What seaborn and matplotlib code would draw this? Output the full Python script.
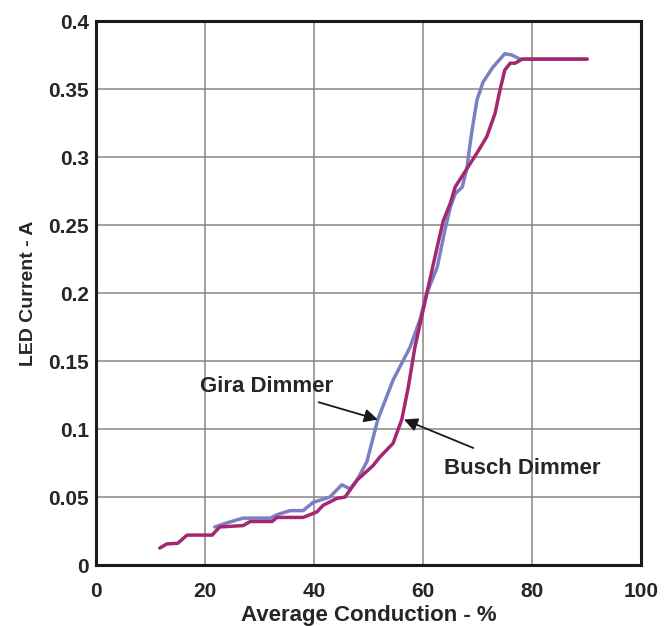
import matplotlib
matplotlib.use('Agg')
import matplotlib.pyplot as plt
import seaborn as sns
import pandas as pd

# values
busch_x = [11.7, 13.0, 15.0, 16.7, 21.3, 22.7, 27.0, 28.3, 32.3, 33.2, 38.0, 40.5, 41.7,
           44.2, 45.7, 47.9, 50.8, 52.1, 54.5, 56.1, 57.3, 58.5, 60.7, 62.6, 63.7, 65.0,
           65.9, 69.9, 71.7, 73.2, 74.1, 75.0, 76.0, 76.9, 78.2, 90.1]
busch_y = [0.0125, 0.0155, 0.016, 0.022, 0.022, 0.028, 0.029, 0.032, 0.032, 0.035, 0.035,
           0.039, 0.044, 0.049, 0.050, 0.0625, 0.073, 0.0795, 0.0895, 0.107, 0.131, 0.160,
           0.200, 0.234, 0.253, 0.266, 0.278, 0.303, 0.315, 0.332, 0.349, 0.364, 0.369,
           0.369, 0.372, 0.372]

gira_x = [21.8, 24.0, 27.0, 32.0, 33.2, 35.6, 38.0, 39.8, 42.9, 45.1, 46.6, 47.9, 49.7,
          51.7, 54.5, 57.6, 59.4, 60.7, 62.6, 64.0, 65.0, 65.9, 67.2, 68.1, 68.3, 69.0,
          69.9, 71.0, 72.8, 75.0, 76.3, 77.8, 90.1]
gira_y = [0.028, 0.031, 0.0345, 0.0345, 0.037, 0.040, 0.040, 0.046, 0.050, 0.059, 0.056,
          0.0625, 0.076, 0.107, 0.136, 0.160, 0.180, 0.200, 0.219, 0.246, 0.263, 0.273,
          0.278, 0.293, 0.300, 0.320, 0.342, 0.355, 0.366, 0.376, 0.375, 0.372, 0.372]

x_ticks = [0, 20, 40, 60, 80, 100]
y_ticks = [0, 0.05, 0.1, 0.15, 0.2, 0.25, 0.3, 0.35, 0.4]
y_labels = ['0', '0.05', '0.1', '0.15', '0.2', '0.25', '0.3', '0.35', '0.4']

df = pd.concat([
    pd.DataFrame({'x': gira_x, 'y': gira_y, 'dimmer': 'Gira'}),
    pd.DataFrame({'x': busch_x, 'y': busch_y, 'dimmer': 'Busch'}),
])

sns.set_style('white')
plt.rcParams['font.family'] = ['Liberation Sans', 'DejaVu Sans']
plt.rcParams['font.weight'] = 'bold'

fig = plt.figure(figsize=(6.65, 6.26), dpi=100)
ax = fig.add_axes([0.1444, 0.0974, 0.8196, 0.8690])

sns.lineplot(data=df, x='x', y='y', hue='dimmer', sort=False, estimator=None,
             palette={'Gira': '#7b80c4', 'Busch': '#a4286f'}, linewidth=2.5,
             legend=False, ax=ax)

ax.set_xlim(0, 100)
ax.set_ylim(0, 0.4)
ax.set_xticks(x_ticks)
ax.set_yticks(y_ticks, y_labels)
ax.grid(True, color='#8c8481', linewidth=1.1)
ax.set_axisbelow(True)
for s in ax.spines.values():
    s.set_color('#1a1a1a')
    s.set_linewidth(2.2)
ax.tick_params(axis='x', length=0, labelsize=15, pad=12)
ax.tick_params(axis='y', length=0, labelsize=15, pad=5)
for lab in ax.get_xticklabels() + ax.get_yticklabels():
    lab.set_fontweight('bold')
ax.set_xlabel('Average Conduction - %', fontsize=16, fontweight='bold', labelpad=3)
ax.set_ylabel('LED Current - A', fontsize=14, fontweight='bold', labelpad=8)

ax.annotate('Gira Dimmer', xy=(51.7, 0.107), xytext=(31.2, 0.131),
            fontsize=16, fontweight='bold', ha='center', va='center',
            arrowprops=dict(arrowstyle='-|>', color='#1a1a1a', lw=1.3,
                            mutation_scale=20, shrinkA=4, shrinkB=0))
ax.annotate('Busch Dimmer', xy=(56.5, 0.107), xytext=(78.2, 0.0713),
            fontsize=16, fontweight='bold', ha='center', va='center',
            arrowprops=dict(arrowstyle='-|>', color='#1a1a1a', lw=1.3,
                            mutation_scale=20, shrinkA=12, shrinkB=0))

plt.savefig('out.png', dpi=100)
